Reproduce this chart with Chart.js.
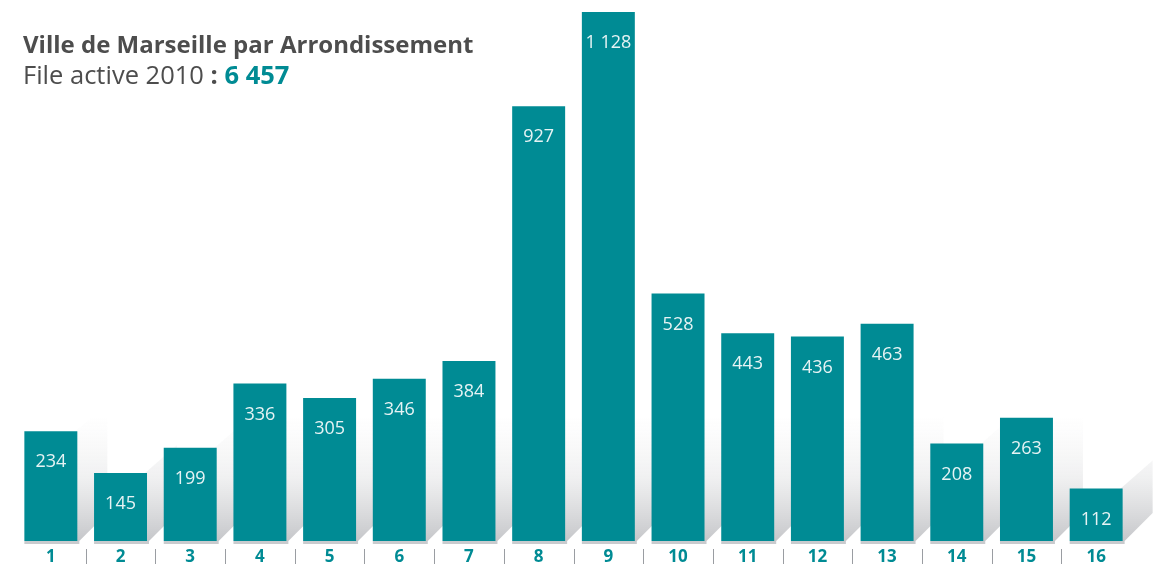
<!DOCTYPE html>
<html>
<head>
<meta charset="utf-8">
<script src="https://cdn.jsdelivr.net/npm/chart.js@4/dist/chart.umd.min.js"></script>
<style>
  body { margin: 0; background: #fff; }
  #wrap { position: relative; width: 1160px; height: 566px; }
  #title { position: absolute; left: 23px; top: 28px; font-family: "Open Sans", sans-serif; color: #4d4d4d; }
  #title .l1 { font-size: 24px; font-weight: 700; line-height: 31px; }
  #title .l2 { font-size: 25.5px; line-height: 30px; }
  #title .num { color: #008b94; font-weight: 700; }
</style>
</head>
<body>
<div id="wrap">
  <canvas id="barChart" width="1160" height="566"></canvas>
  <div id="title"><div class="l1">Ville de Marseille par Arrondissement</div><div class="l2">File active 2010 <b>:</b> <span class="num">6 457</span></div></div>
</div>
<script>
const categories = ['1','2','3','4','5','6','7','8','9','10','11','12','13','14','15','16'];
const patients = [234, 145, 199, 336, 305, 346, 384, 927, 1128, 528, 443, 436, 463, 208, 263, 112];
const valueLabels = ['234','145','199','336','305','346','384','927','1 128','528','443','436','463','208','263','112'];

const teal = '#008b94';

// shadows behind the bars, grey strip below them, labels
const shadowPlugin = {
    id: 'barShadow',
    beforeDatasetsDraw(chart) {
        const ctx = chart.ctx;
        const meta = chart.getDatasetMeta(0);
        const bottom = chart.chartArea.bottom;
        ctx.save();
        meta.data.forEach((bar) => {
            const half = bar.width / 2;
            const right = bar.x + half;
            const h = bottom - bar.y;
            const grad = ctx.createLinearGradient(0, bottom, 0, bottom - 125);
            grad.addColorStop(0, 'rgba(150,152,158,0.55)');
            grad.addColorStop(0.5, 'rgba(170,172,176,0.18)');
            grad.addColorStop(1, 'rgba(200,200,204,0)');
            ctx.fillStyle = grad;
            ctx.beginPath();
            ctx.moveTo(right - 2, bottom);
            ctx.lineTo(right + 2, bottom);
            ctx.lineTo(right + 2 + 28, bottom - 28);
            ctx.lineTo(right + 2 + 28, bottom - h - 28);
            ctx.lineTo(right - 2, bottom - h);
            ctx.closePath();
            ctx.fill();
            ctx.fillStyle = '#c9cbce';
            ctx.fillRect(bar.x - half, bottom, bar.width + 2, 3);
        });
        ctx.restore();
    },
    afterDatasetsDraw(chart) {
        const ctx = chart.ctx;
        const meta = chart.getDatasetMeta(0);
        const bottom = chart.chartArea.bottom;
        ctx.save();
        ctx.textAlign = 'center';
        ctx.textBaseline = 'middle';
        ctx.font = '18px "Open Sans", sans-serif';
        ctx.fillStyle = '#e6f3f4';
        meta.data.forEach((bar, i) => {
            ctx.fillText(valueLabels[i], bar.x, bar.y + 31);
        });
        // category labels
        ctx.font = 'bold 17px "Open Sans", sans-serif';
        ctx.fillStyle = teal;
        meta.data.forEach((bar, i) => {
            ctx.fillText(categories[i], bar.x, bottom + 16);
        });
        // separators between categories
        ctx.strokeStyle = '#9a9da2';
        ctx.lineWidth = 1;
        for (let i = 0; i < meta.data.length - 1; i++) {
            const x = Math.round((meta.data[i].x + meta.data[i + 1].x) / 2) + 0.5;
            ctx.beginPath();
            ctx.moveTo(x, bottom + 8);
            ctx.lineTo(x, bottom + 23);
            ctx.stroke();
        }
        ctx.restore();
    }
};

new Chart(document.getElementById('barChart').getContext('2d'), {
    type: 'bar',
    data: {
        labels: categories,
        datasets: [{
            data: patients,
            backgroundColor: teal,
            borderWidth: 0,
            categoryPercentage: 1,
            barPercentage: 0.76
        }]
    },
    options: {
        responsive: false,
        animation: false,
        layout: { padding: { left: 16, right: 29, top: 12, bottom: 25 } },
        plugins: { legend: { display: false }, tooltip: { enabled: false } },
        scales: {
            x: { display: false },
            y: { display: false, min: 0, max: 1128 }
        }
    },
    plugins: [shadowPlugin]
});
</script>
</body>
</html>
